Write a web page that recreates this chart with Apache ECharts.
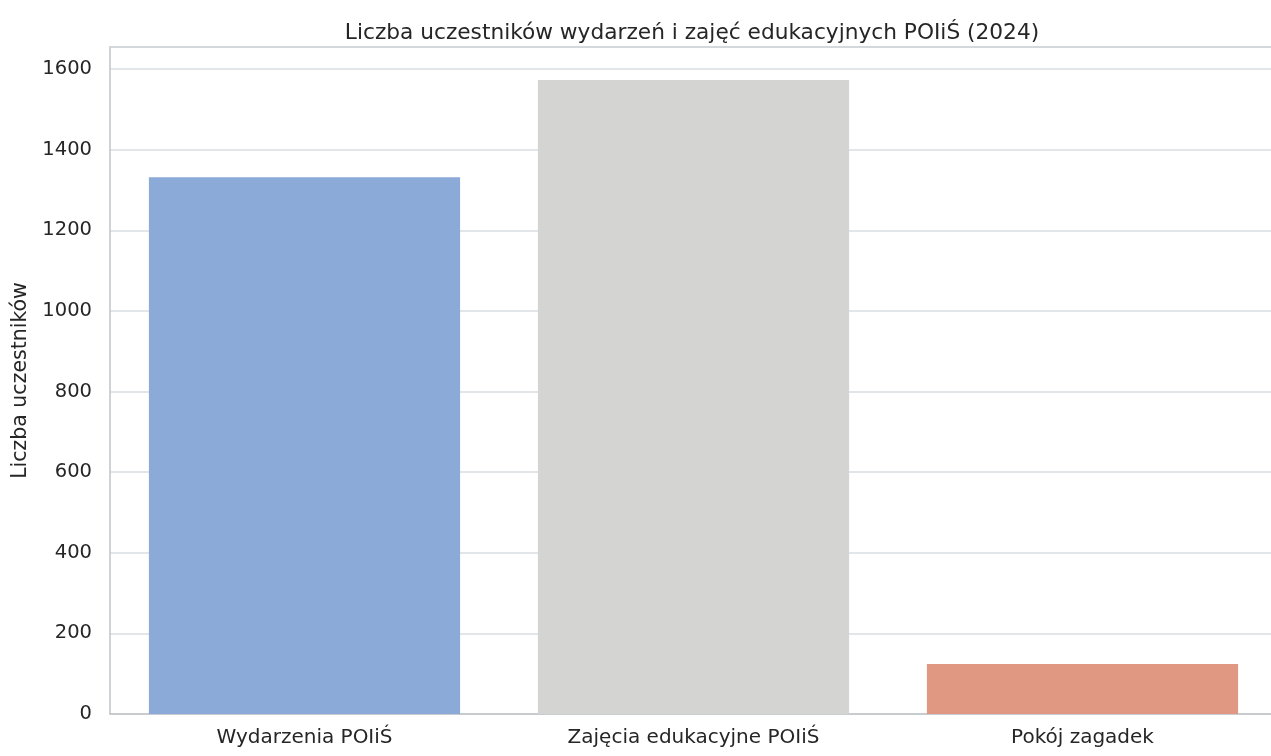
<!DOCTYPE html>
<html>
<head>
<meta charset="utf-8">
<script src="https://cdn.jsdelivr.net/npm/echarts@6/dist/echarts.min.js"></script>
<style>html,body{margin:0;padding:0;background:#fff;overflow:hidden;}#c{width:1290px;height:756px;}</style>
</head>
<body>
<div id="c"></div>
<script>
const titleText = 'Liczba uczestników wydarzeń i zajęć edukacyjnych POIiŚ (2024)';
const yAxisName = 'Liczba uczestników';
const categories = ['Wydarzenia POIiŚ', 'Zajęcia edukacyjne POIiŚ', 'Pokój zagadek'];
const participants = [1332, 1573, 124];
const barColors = ['#8caad8', '#d4d4d3', '#e09883'];

const font = 'DejaVu Sans';
const chart = echarts.init(document.getElementById('c'), null, {renderer: 'canvas'});
chart.setOption({
  backgroundColor: '#ffffff',
  animation: false,
  title: {
    text: titleText,
    left: 687, textAlign: 'center', top: 17,
    textStyle: {fontFamily: font, fontSize: 21.7, fontWeight: 'normal', color: '#262626'}
  },
  grid: {
    left: 110, top: 47, width: 1167, height: 667, show: false
  },
  xAxis: [{
    type: 'category',
    data: categories,
    axisLine: {show: true, lineStyle: {color: '#bfc4c8', width: 1.5}},
    axisTick: {show: false},
    axisLabel: {fontFamily: font, fontSize: 20, color: '#262626', margin: 14},
    splitLine: {show: false}
  }, {
    type: 'category',
    position: 'top',
    data: categories,
    axisLine: {show: true, lineStyle: {color: '#cfd3d6', width: 1.5}},
    axisTick: {show: false},
    axisLabel: {show: false},
    splitLine: {show: false}
  }],
  yAxis: {
    type: 'value',
    min: 0, max: 1655, interval: 200,
    name: yAxisName,
    nameLocation: 'middle',
    nameGap: 72,
    nameTextStyle: {fontFamily: font, fontSize: 20.5, color: '#262626'},
    axisLine: {show: true, lineStyle: {color: '#bfc4c8', width: 1.5}},
    axisTick: {show: false},
    axisLabel: {fontFamily: font, fontSize: 19.5, color: '#262626', margin: 18, showMaxLabel: false,
      formatter: v => String(v)},
    splitLine: {show: true, lineStyle: {color: '#dadee1', width: 1.5}}
  },
  series: [{
    type: 'bar',
    xAxisIndex: 0,
    data: participants.map((v, i) => ({value: v, itemStyle: {color: barColors[i]}})),
    barCategoryGap: '20%'
  }]
});
</script>
</body>
</html>
